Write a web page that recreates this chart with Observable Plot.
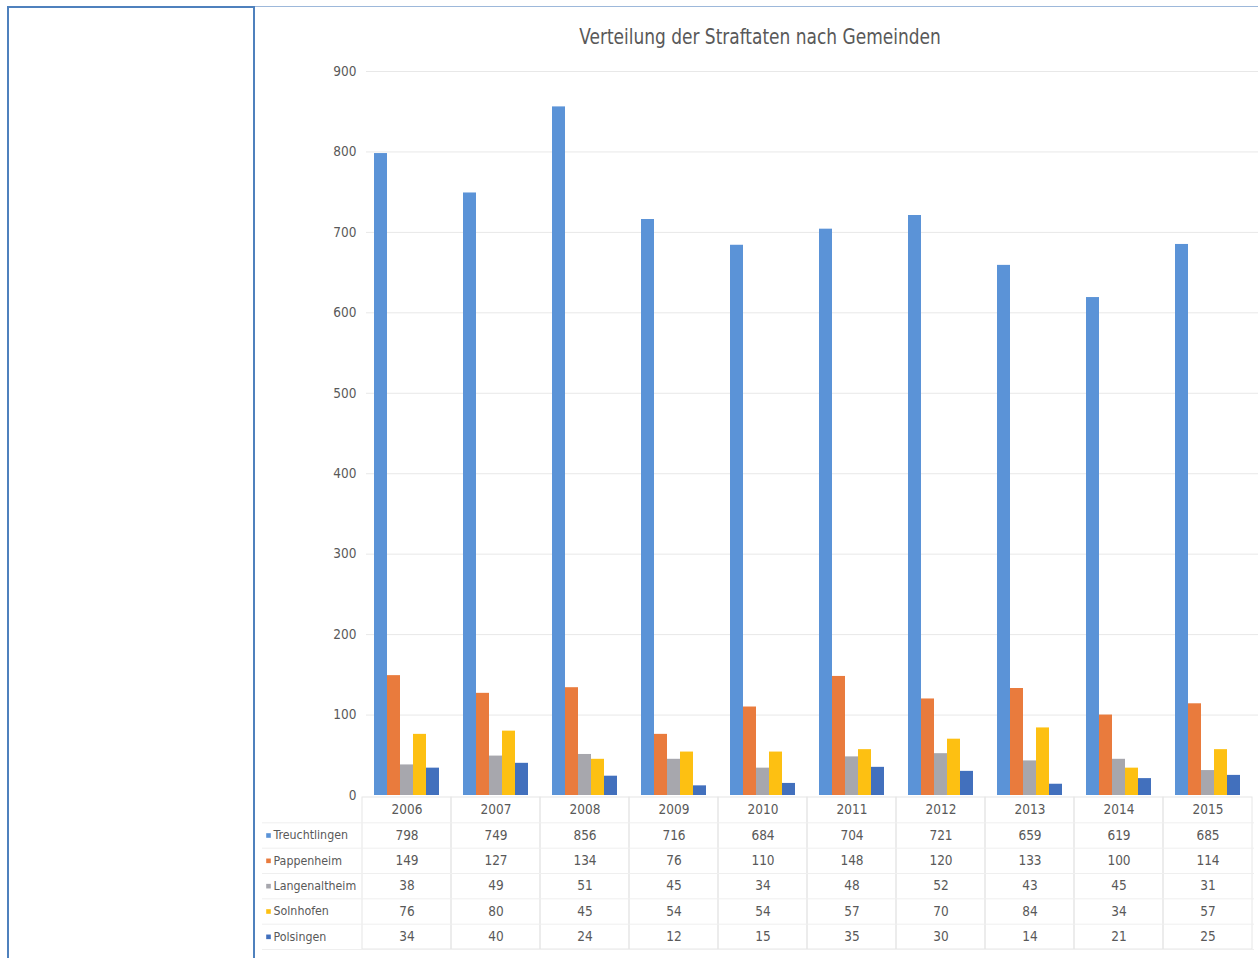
<!DOCTYPE html>
<html>
<head>
<meta charset="utf-8">
<script src="https://cdn.jsdelivr.net/npm/d3@7"></script>
<script src="https://cdn.jsdelivr.net/npm/@observablehq/plot@0.6"></script>
<style>
  html, body { margin: 0; padding: 0; background: #fff; }
  #page { position: relative; width: 1258px; height: 958px; overflow: hidden; background: #fff;
    font-family: "Liberation Sans Narrow", "DejaVu Sans Condensed", "Roboto Condensed", "Liberation Sans", sans-serif; }
  .bline { position: absolute; background: #4f81bd; z-index: 5; }
  #title { position: absolute; left: 510px; width: 500px; top: 25px; text-align: center;
    font-size: 21px; color: #595959; z-index: 3; transform: scaleX(0.9); transform-origin: 250px 0; }
  .layer { position: absolute; left: 0; }
  #axis { top: 0; z-index: 1; }
  #chart { top: 0; z-index: 2; }
  #table { top: 795px; z-index: 2; }
</style>
</head>
<body>
<div id="page">
  <div class="bline" style="left:7px; top:6px; width:2px; height:960px;"></div>
  <div class="bline" style="left:7px; top:6px; width:248px; height:2px;"></div>
  <div class="bline" style="left:253px; top:6px; width:2px; height:960px;"></div>
  <div class="bline" style="left:255px; top:6px; width:1003px; height:1px; background:#9db8da;"></div>
  <div id="title">Verteilung der Straftaten nach Gemeinden</div>
  <div id="axis" class="layer"></div>
  <div id="chart" class="layer"></div>
  <div id="table" class="layer"></div>
</div>
<script>
const years = ["2006","2007","2008","2009","2010","2011","2012","2013","2014","2015"];
const series = ["Treuchtlingen","Pappenheim","Langenaltheim","Solnhofen","Polsingen"];
const colors = ["#5b93d7","#e97b3d","#a7a7ad","#fdc012","#4270bd"];
const treuchtlingen = [798,749,856,716,684,704,721,659,619,685];
const pappenheim    = [149,127,134,76,110,148,120,133,100,114];
const langenaltheim = [38,49,51,45,34,48,52,43,45,31];
const solnhofen     = [76,80,45,54,54,57,70,84,34,57];
const polsingen     = [34,40,24,12,15,35,30,14,21,25];
const yTicks = [0,100,200,300,400,500,600,700,800,900];

const valuesBySeries = [treuchtlingen, pappenheim, langenaltheim, solnhofen, polsingen];
const data = [];
series.forEach((s, si) => years.forEach((y, yi) => data.push({year: y, series: s, row: si + 1, value: valuesBySeries[si][yi]})));

const font = '"Liberation Sans Narrow", "DejaVu Sans Condensed", "Roboto Condensed", "Liberation Sans", sans-serif';
const textColor = "#595959";
const fs = 13.5;

// Background layer: y axis and gridlines across the full width
const axis = Plot.plot({
  width: 1258, height: 815,
  marginTop: 71, marginBottom: 20, marginLeft: 366, marginRight: 0,
  style: {background: "transparent", fontFamily: font, fontSize: fs + "px", color: textColor},
  x: {axis: null},
  y: {domain: [0, 900], ticks: yTicks, tickSize: 0, tickPadding: 10, label: null},
  marks: [
    Plot.ruleY(yTicks.filter(t => t > 0), {stroke: "#e8e8e8", strokeWidth: 1})
  ]
});
document.getElementById("axis").appendChild(axis);

// Bars, faceted by year
const chart = Plot.plot({
  width: 1258, height: 800,
  marginTop: 71, marginBottom: 5, marginLeft: 359, marginRight: 4,
  style: {background: "transparent", fontFamily: font, fontSize: fs + "px", color: textColor},
  fx: {domain: years, paddingInner: 0.24, paddingOuter: 0.12, axis: null, label: null},
  x: {domain: series, padding: 0, axis: null},
  y: {domain: [0, 900], axis: null},
  color: {domain: series, range: colors},
  marks: [
    Plot.barY(data, {fx: "year", x: "series", y: "value", fill: "series"})
  ]
});
document.getElementById("chart").appendChild(chart);

// Data table below the chart
const rowBounds = [0.5, 1.5, 2.5, 3.5, 4.5, 5.5];
const table = Plot.plot({
  width: 1258, height: 158,
  marginTop: 2, marginBottom: 4, marginLeft: 359, marginRight: 4,
  style: {background: "transparent", fontFamily: font, fontSize: fs + "px", color: textColor},
  x: {domain: years, padding: 0, axis: null},
  y: {domain: [5.5, -0.5], axis: null},
  color: {domain: series, range: colors},
  marks: [
    Plot.barY(years, {x: d => d, y1: -0.5, y2: 5.5, fill: "none", stroke: "#e6e6e6", strokeWidth: 1}),
    Plot.ruleY(rowBounds, {insetLeft: -97, stroke: "#efefef", strokeWidth: 1}),
    Plot.text(years, {x: d => d, y: 0, text: d => d, fontSize: fs, fill: textColor}),
    Plot.text(data, {x: "year", y: "row", text: "value", fontSize: fs, fill: textColor}),
    Plot.dot(series, {y: (d, i) => i + 1, frameAnchor: "left", dx: -91, symbol: "square", r: 2.6, fill: d => d, stroke: null}),
    Plot.text(series, {y: (d, i) => i + 1, frameAnchor: "left", dx: -86, textAnchor: "start", text: d => d, fontSize: 12.3, fill: textColor})
  ]
});
document.getElementById("table").appendChild(table);
</script>
</body>
</html>
